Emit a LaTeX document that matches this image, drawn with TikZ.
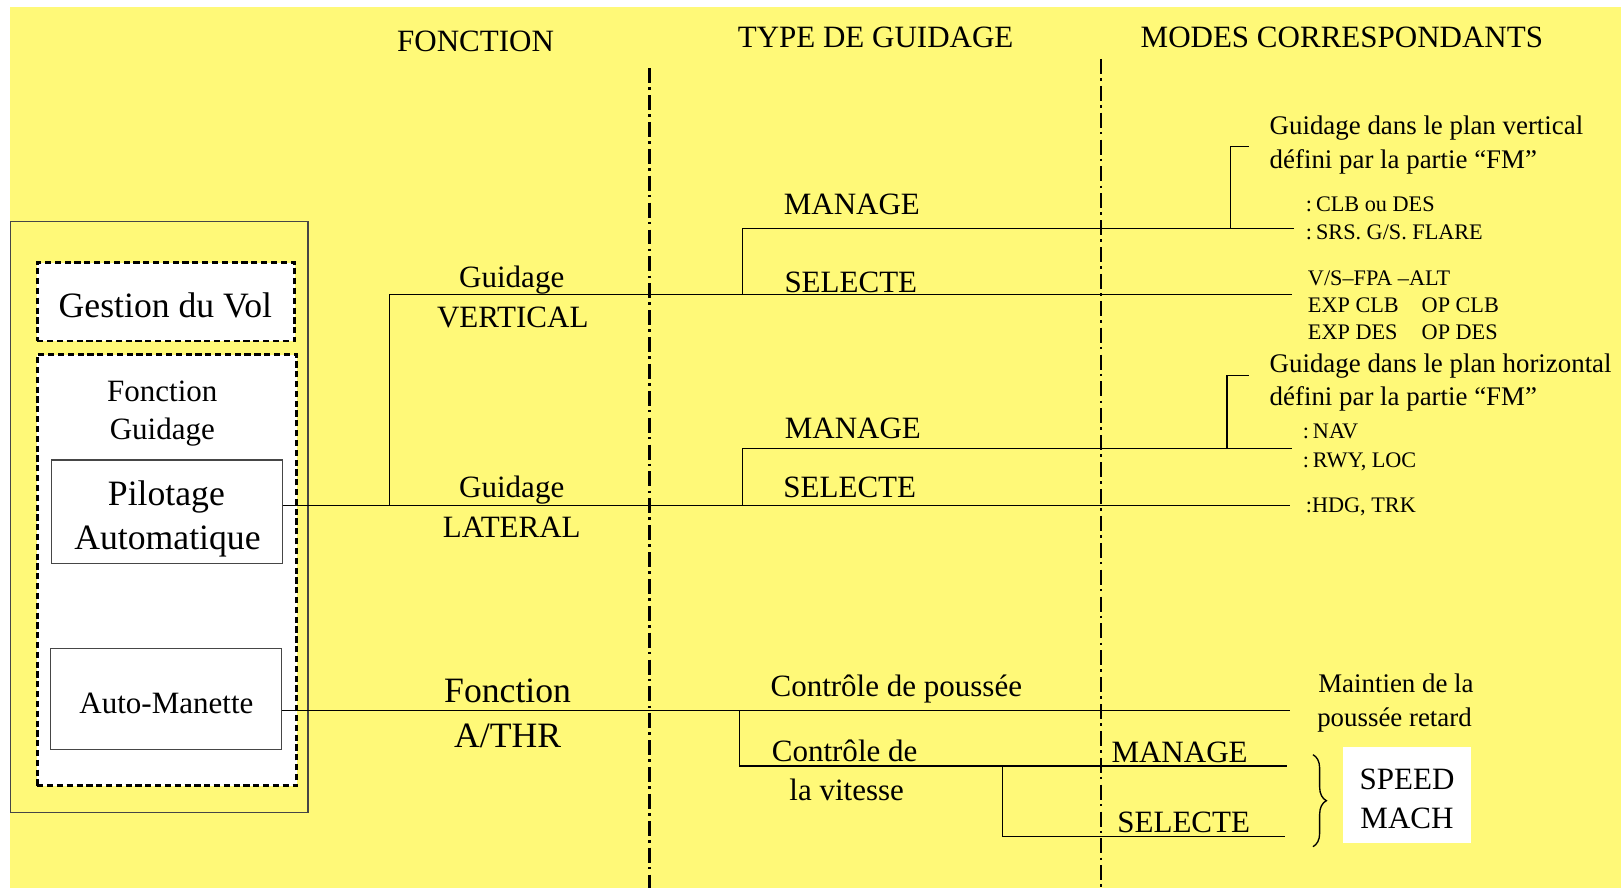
\documentclass[tikz,border=0pt]{standalone}
\usepackage{fontspec}
\setmainfont{Liberation Serif}
\usetikzlibrary{decorations.pathreplacing}
\definecolor{bgyellow}{RGB}{255,249,120}
\definecolor{boxgray}{RGB}{70,70,70}

\begin{document}
\begin{tikzpicture}[x=1pt,y=-1pt,
  txt/.style={inner sep=0pt, anchor=base, yshift=-1.5pt, font=\fontsize{30}{36}\selectfont},
  hdr/.style={inner sep=0pt, anchor=base, font=\fontsize{30}{36}\selectfont},
  big/.style={inner sep=0pt, anchor=base, yshift=-1pt, font=\fontsize{34.5}{40}\selectfont},
  note/.style={inner sep=0pt, anchor=base west, font=\fontsize{26}{32}\selectfont},
  mode/.style={inner sep=0pt, anchor=base west, yshift=-1pt, font=\fontsize{21.5}{26}\selectfont},
  conn/.style={line width=1.3pt, black},
  sep/.style={line width=2.5pt, black, dash pattern=on 14.5pt off 4pt on 2.5pt off 5pt},
  solidbox/.style={draw=boxgray, line width=1.2pt, inner sep=0pt},
  dashbox/.style={draw=black, fill=white, line width=2.5pt, dash pattern=on 6pt off 3.5pt, inner sep=0pt}
]
% page and background
\useasboundingbox (0,0) rectangle (1568,859);
\fill[bgyellow] (9.7,6.8) rectangle (1568,859);

% column headers
\node[hdr] (hfct) at (460,49.5) {FONCTION};
\node[hdr] (htype) at (847,45.5) {TYPE DE GUIDAGE};
\node[hdr] (hmodes) at (1298,45.5) {MODES CORRESPONDANTS};

% column separators
\coordinate (s1t) at (628,66);  \coordinate (s1b) at (628,859);
\coordinate (s2t) at (1065,57); \coordinate (s2b) at (1065,859);
\draw[sep] (s1t) -- (s1b);
\draw[sep] (s2t) -- (s2b);

% left block: flight management system
\node[solidbox, minimum width=288pt, minimum height=572pt] (outer) at (154,500) {};
\node[dashbox, minimum width=249pt, minimum height=76pt] (gv) at (160.5,292) {};
\node[big] (gvt) at (160,306) {Gestion du Vol};
\node[dashbox, minimum width=251pt, minimum height=417pt] (fg) at (161.5,551.5) {};
\node[txt] (fg1) at (157,387) {Fonction};
\node[txt] (fg2) at (157,424) {Guidage};
\node[solidbox, fill=white, minimum width=223pt, minimum height=100pt] (pa) at (161.5,495) {};
\node[big] (pa1) at (161,488) {Pilotage};
\node[big] (pa2) at (162,531) {Automatique};
\node[solidbox, fill=white, minimum width=223pt, minimum height=98pt] (am) at (160.5,676) {};
\node[txt] (amt) at (161,689) {Auto-Manette};

% function labels
\node[txt] (gv1) at (495,277) {Guidage};
\node[txt] (gv2) at (496,315) {VERTICAL};
\node[txt] (gl1) at (495,480) {Guidage};
\node[txt] (gl2) at (495,518) {LATERAL};
\node[big] (ft1) at (491,679) {Fonction};
\node[big] (ft2) at (491,722) {A/THR};

% guidance type labels
\node[txt] (vman) at (824,206) {MANAGE};
\node[txt] (vsel) at (823,281) {SELECTE};
\node[txt] (lman) at (825,423) {MANAGE};
\node[txt] (lsel) at (822,480) {SELECTE};
\node[txt] (cpou) at (867,672) {Contrôle de poussée};
\node[txt] (cv1) at (817,735) {Contrôle de};
\node[txt] (cv2) at (819,773) {la vitesse};
\node[txt] (sman) at (1141,736) {MANAGE};
\node[txt] (ssel) at (1145,804) {SELECTE};

% corresponding modes
\node[note] (vn1) at (1228,130) {Guidage dans le plan vertical};
\node[note] (vn2) at (1228,163) {défini par la partie “FM”};
\node[mode] (vm1) at (1263,204) {:\hspace{0.18em}CLB ou DES};
\node[mode] (vm2) at (1263,231) {:\hspace{0.18em}SRS. G/S. FLARE};
\node[mode] (vs1) at (1265,275) {V/S–FPA –ALT};
\node[mode] (vs2) at (1265,301) {EXP CLB};
\node[mode] (vs3) at (1375,301) {OP CLB};
\node[mode] (vs4) at (1265,327) {EXP DES};
\node[mode] (vs5) at (1375,327) {OP DES};
\node[note] (hn1) at (1228,360) {Guidage dans le plan horizontal};
\node[note] (hn2) at (1228,392) {défini par la partie “FM”};
\node[mode] (hm1) at (1260,423) {:\hspace{0.18em}NAV};
\node[mode] (hm2) at (1260,451) {:\hspace{0.18em}RWY, LOC};
\node[mode] (hs1) at (1263,495) {:HDG, TRK};
\node[note] (mp1) at (1275,670) {Maintien de la};
\node[note] (mp2) at (1274,703) {poussée retard};
\node[fill=white, inner sep=0pt, minimum width=124pt, minimum height=92pt] (sm) at (1361,769) {};
\node[txt] (sm1) at (1361,762) {SPEED};
\node[txt] (sm2) at (1361,800) {MACH};

% connector points
\coordinate (vsplit) at (377,285);
\coordinate (vjoin) at (377,489);
\coordinate (vmk) at (718,285);
\coordinate (vmt) at (718,221);
\coordinate (vend1) at (1252,221);
\coordinate (vend2) at (1250,285);
\coordinate (vbk) at (1190,221);
\coordinate (vbt) at (1190,142);
\coordinate (vbe) at (1208,142);
\coordinate (lmk) at (718,489);
\coordinate (lmt) at (718,434);
\coordinate (lend1) at (1250,434);
\coordinate (lend2) at (1248,489);
\coordinate (lbk) at (1187,434);
\coordinate (lbt) at (1187,363);
\coordinate (lbe) at (1208,363);
\coordinate (tmk) at (715,687);
\coordinate (tmt) at (715,741);
\coordinate (tend1) at (1248,687);
\coordinate (tend2) at (1245,741);
\coordinate (smk) at (970,741);
\coordinate (smt) at (970,809);
\coordinate (tend3) at (1243,809);
\coordinate (brt) at (1270,730);
\coordinate (brb) at (1270,819);

% connectors
\draw[conn] ([yshift=6pt]pa.east) -- (lend2);
\draw[conn] (vjoin) -- (vsplit) -- (vend2);
\draw[conn] (vmk) -- (vmt) -- (vend1);
\draw[conn] (vbk) -- (vbt) -- (vbe);
\draw[conn] (lmk) -- (lmt) -- (lend1);
\draw[conn] (lbk) -- (lbt) -- (lbe);
\draw[conn] ([yshift=-11pt]am.east) -- (tend1);
\draw[conn] (tmk) -- (tmt) -- (tend2);
\draw[conn] (smk) -- (smt) -- (tend3);
\draw[line width=1.3pt, decorate, decoration={brace, amplitude=13pt}] (brt) -- (brb);
\end{tikzpicture}
\end{document}
